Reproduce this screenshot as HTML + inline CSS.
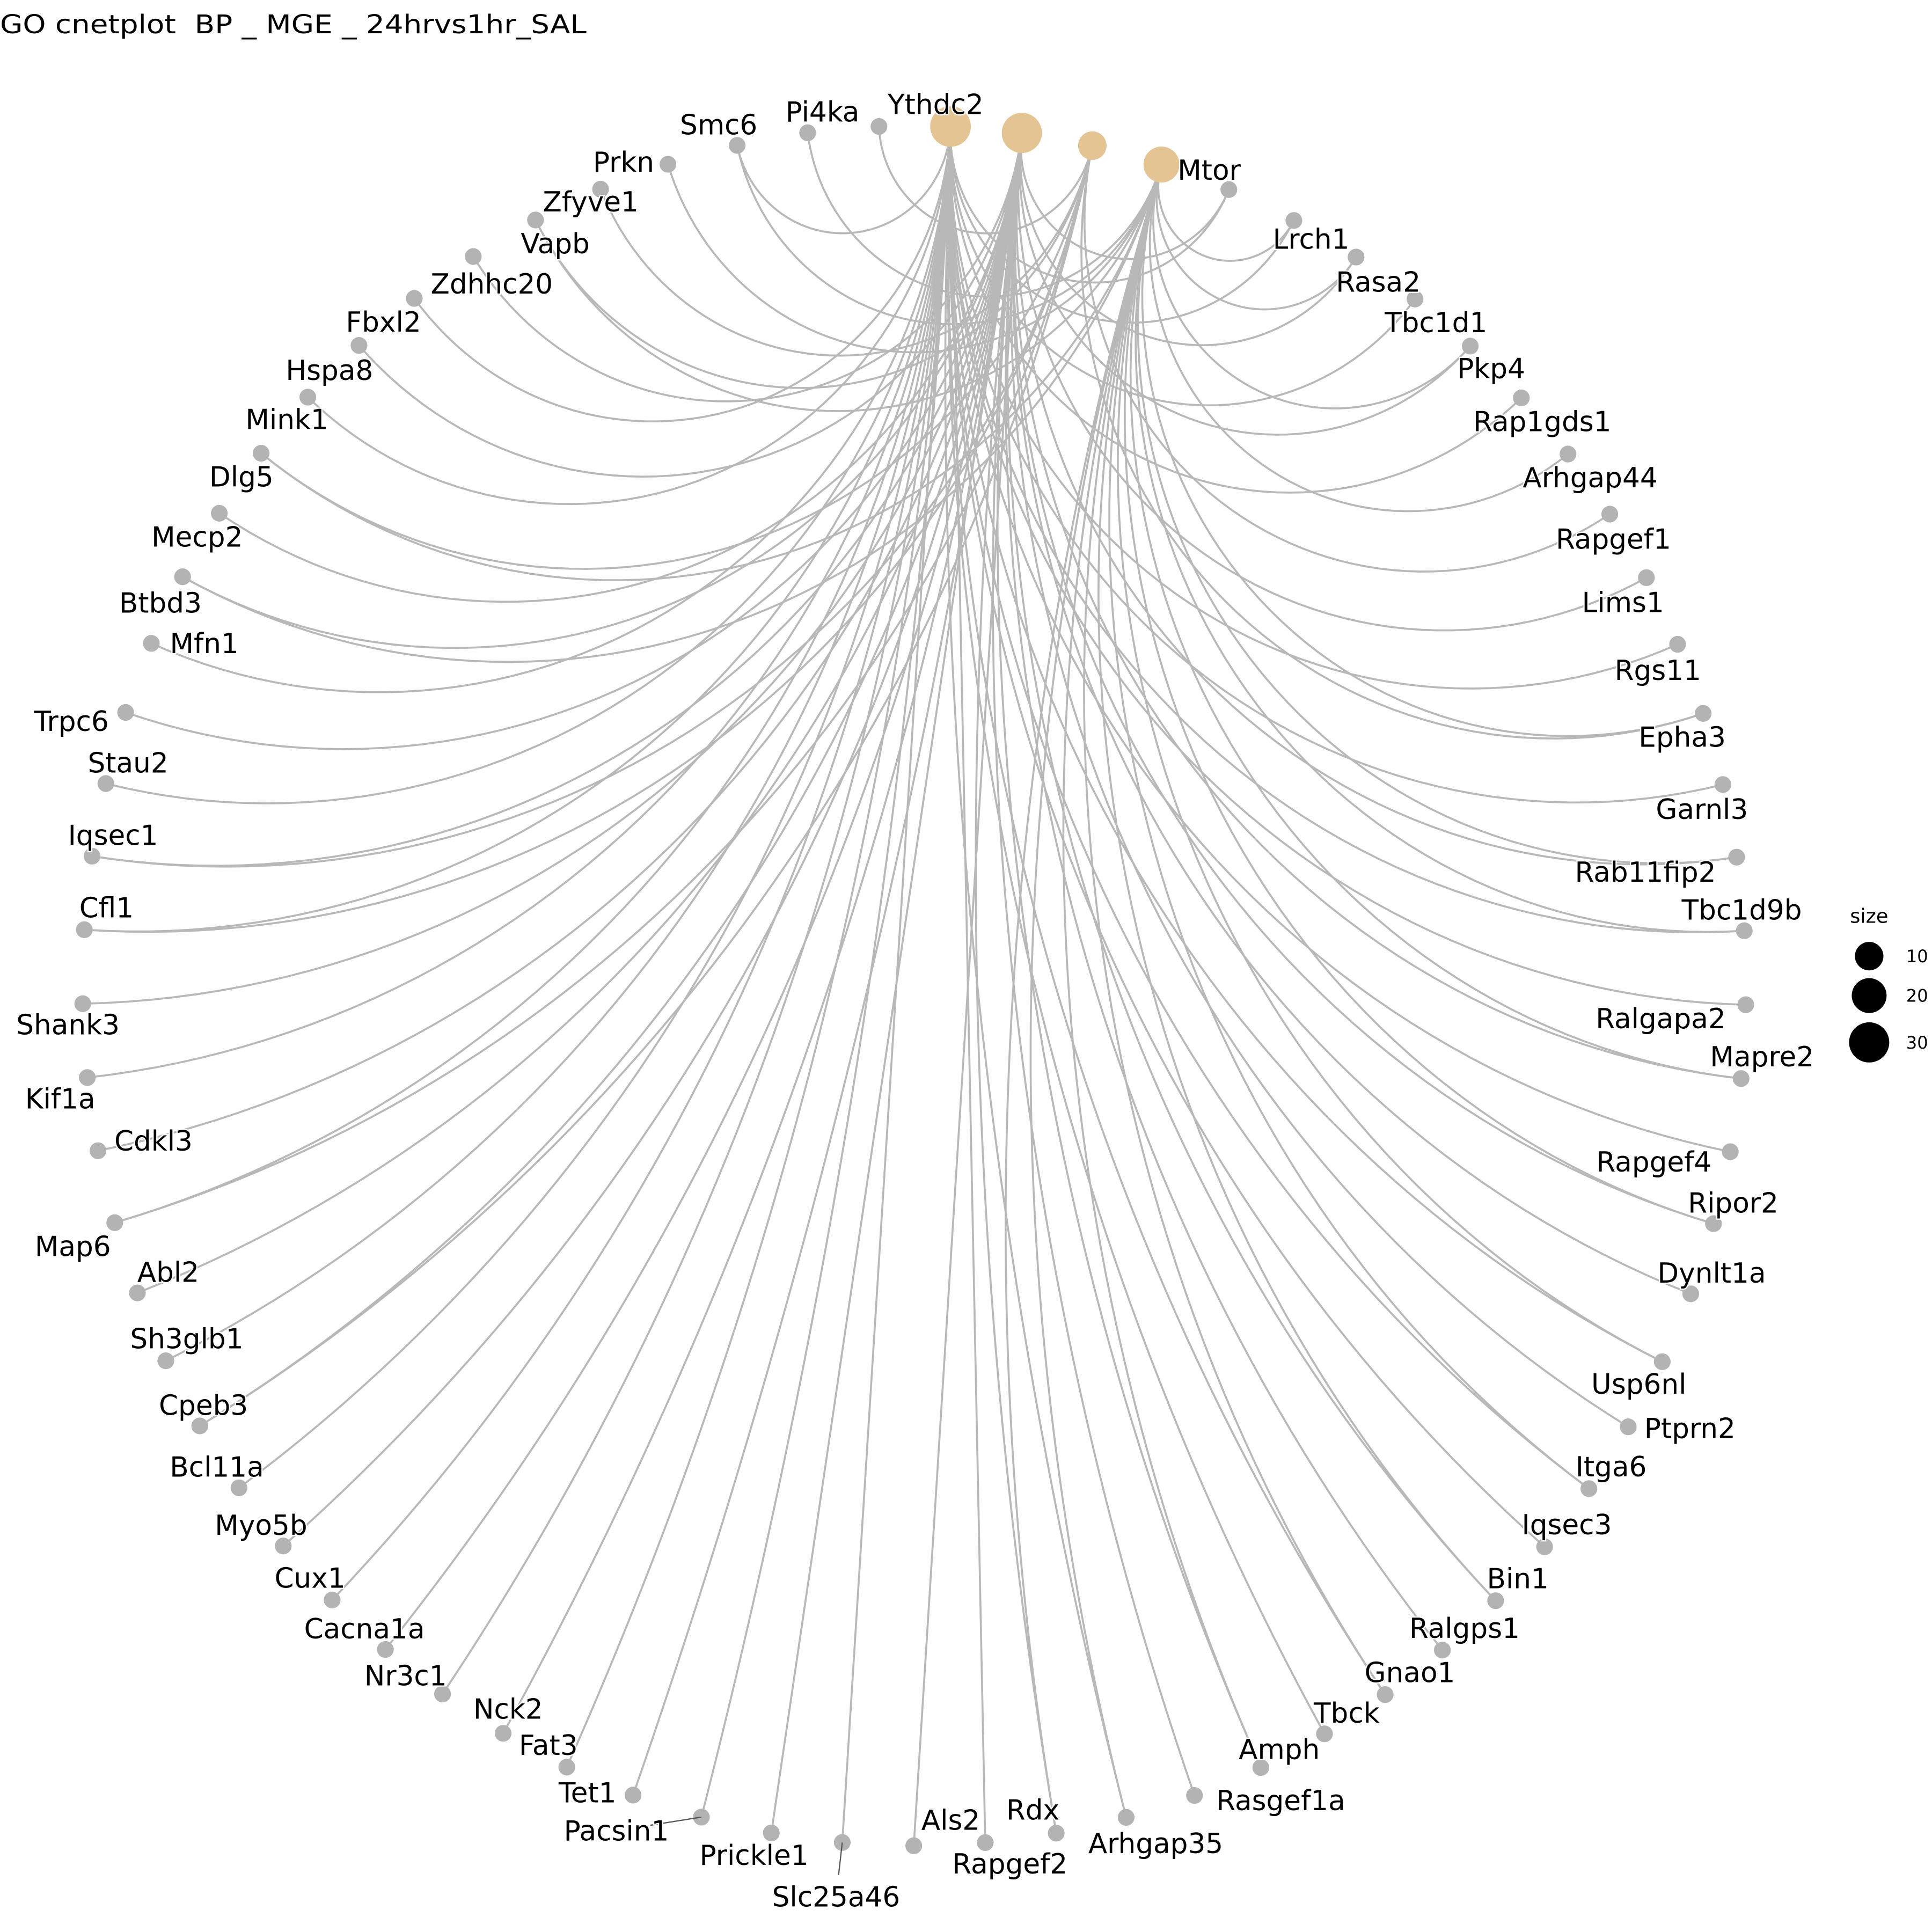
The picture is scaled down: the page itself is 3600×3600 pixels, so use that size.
<!DOCTYPE html>
<html><head><meta charset="utf-8">
<style>
html,body{margin:0;padding:0;background:#fff;}
svg{display:block;}
text{font-family:"DejaVu Sans","Liberation Sans",sans-serif;}
</style></head>
<body>
<svg id="chart" width="3600" height="3600" viewBox="0 0 1568 1568" xmlns="http://www.w3.org/2000/svg">
<rect x="0" y="0" width="1568" height="1568" fill="#ffffff"/>
<text x="0" y="27" font-size="21" textLength="476" lengthAdjust="spacingAndGlyphs" fill="#000" style="white-space:pre">GO cnetplot&#160; BP _ MGE _ 24hrvs1hr_SAL</text>
<g id="edges"></g>
<g id="nodes"></g>
<g id="labels"></g>
<g id="legend">
<text x="1517" y="749" font-size="16" text-anchor="middle">size</text>
</g>
</svg>
<script>
// ---- data ----
const categories = ["cat1","cat2","cat3","cat4"];
const genes = ["Mtor","Lrch1","Rasa2","Tbc1d1","Pkp4","Rap1gds1","Arhgap44","Rapgef1","Lims1","Rgs11",
"Epha3","Garnl3","Rab11fip2","Tbc1d9b","Ralgapa2","Mapre2","Rapgef4","Ripor2","Dynlt1a","Usp6nl",
"Ptprn2","Itga6","Iqsec3","Bin1","Ralgps1","Gnao1","Tbck","Amph","Rasgef1a","Arhgap35",
"Rdx","Rapgef2","Als2","Slc25a46","Prickle1","Pacsin1","Tet1","Fat3","Nck2","Nr3c1",
"Cacna1a","Cux1","Myo5b","Bcl11a","Cpeb3","Sh3glb1","Abl2","Map6","Cdkl3","Kif1a",
"Shank3","Cfl1","Iqsec1","Stau2","Trpc6","Mfn1","Btbd3","Mecp2","Dlg5","Mink1",
"Hspa8","Fbxl2","Zdhhc20","Vapb","Zfyve1","Prkn","Smc6","Pi4ka","Ythdc2"];
const cat1Genes = ["Mtor","Lrch1","Tbc1d1","Rap1gds1","Rgs11","Garnl3","Tbc1d9b","Ralgapa2","Rapgef4","Usp6nl","Itga6","Iqsec3","Gnao1","Tbck","Arhgap35","Rapgef2","Slc25a46","Pacsin1","Fat3","Nr3c1","Cux1","Bcl11a","Sh3glb1","Map6","Kif1a","Cfl1","Stau2","Mfn1","Mink1","Fbxl2","Smc6"];
const cat2Genes = ["Mtor","Rasa2","Pkp4","Lims1","Rab11fip2","Mapre2","Ripor2","Dynlt1a","Ptprn2","Bin1","Ralgps1","Amph","Rasgef1a","Rdx","Als2","Prickle1","Tet1","Nck2","Cacna1a","Myo5b","Cpeb3","Abl2","Cdkl3","Shank3","Iqsec1","Trpc6","Btbd3","Mecp2","Hspa8","Zdhhc20"];
const cat3Genes = ["Ythdc2","Zfyve1","Vapb","Dlg5","Cfl1","Iqsec1","Map6","Cpeb3","Rapgef1","Epha3"];
const cat4Genes = ["Lrch1","Rasa2","Pkp4","Arhgap44","Epha3","Rab11fip2","Tbc1d9b","Mapre2","Ripor2","Usp6nl","Itga6","Bin1","Gnao1","Amph","Arhgap35","Rdx","Pi4ka","Smc6","Prkn","Vapb","Dlg5","Btbd3"];
const legendSizes = [10,20,30];

// ---- layout (label placement offsets, not data) ----
const labelOffsets = [[-16,-16],[14,15],[18,20],[17,19],[17,18],[17,19],[18,19],[3,20],[-19,20],[-16,21],
[-17,19],[-17,20],[-74,12],[-2,-17],[-69,11],[17,-18],[-62,8],[16,-17],[17,-17],[-19,18],
[50,1],[18,-18],[18,-18],[18,-18],[18,-18],[20,-18],[18,-17],[15,-15],[70,4],[24,21],
[-19,-19],[20,17],[30,-21],[-5,44],[-14,18],[-69,11],[-37,-2],[-15,-18],[4,-20],[-30,-15],
[-17,-17],[-18,-18],[-18,-17],[-18,-17],[3,-17],[17,-18],[25,-17],[-34,19],[45,-8],[-22,17],
[-12,17],[18,-18],[17,-17],[18,-17],[-44,7],[43,0],[-18,21],[-18,19],[-16,19],[-17,18],
[-24,20],[-25,19],[15,22],[16,19],[-8,10],[-36,-2],[-15,-17],[12,-17],[46,-18]];
const leaderGenes = ["Slc25a46","Pacsin1"];

const NS = "http://www.w3.org/2000/svg";
const CX = 742, CY = 800, RX = 675, RY = 698;
const N = categories.length + genes.length;
const START = 2.5 * Math.PI / 180;
function ang(i){ return START + i * 2 * Math.PI / N; }
function unitPt(i){ const a = ang(i); return [Math.sin(a), -Math.cos(a)]; }
function toScreen(u){ return [CX + RX*u[0], CY + RY*u[1]]; }
function rForSize(s){ return Math.sqrt(68 + 6.6*s); }

const edgesG = document.getElementById('edges');
const nodesG = document.getElementById('nodes');
const labelsG = document.getElementById('labels');
const legendG = document.getElementById('legend');

function arcPath(i, j){
  const p1 = unitPt(i), p2 = unitPt(j);
  const dot = p1[0]*p2[0] + p1[1]*p2[1];
  const pts = [];
  if (1 + dot < 0.02) {
    pts.push(p1, p2);
  } else {
    const c = [(p1[0]+p2[0])/(1+dot), (p1[1]+p2[1])/(1+dot)];
    const r = Math.hypot(p1[0]-c[0], p1[1]-c[1]);
    const a1 = Math.atan2(p1[1]-c[1], p1[0]-c[0]);
    let a2 = Math.atan2(p2[1]-c[1], p2[0]-c[0]);
    let d = a2 - a1;
    while (d > Math.PI) d -= 2*Math.PI;
    while (d < -Math.PI) d += 2*Math.PI;
    for (let k = 0; k <= 60; k++) {
      const a = a1 + d*k/60;
      pts.push([c[0] + r*Math.cos(a), c[1] + r*Math.sin(a)]);
    }
  }
  return pts.map((u, k) => { const s = toScreen(u); return (k ? 'L' : 'M') + s[0].toFixed(2) + ' ' + s[1].toFixed(2); }).join(' ');
}

const catLists = [cat1Genes, cat2Genes, cat3Genes, cat4Genes];
catLists.forEach((list, ci) => {
  list.forEach(g => {
    const gi = genes.indexOf(g) + categories.length;
    const p = document.createElementNS(NS, 'path');
    p.setAttribute('d', arcPath(ci, gi));
    p.setAttribute('fill', 'none');
    p.setAttribute('stroke', '#b8b8b8');
    p.setAttribute('stroke-width', '1.6');
    
    
    edgesG.appendChild(p);
  });
});

genes.forEach((g, k) => {
  const s = toScreen(unitPt(k + categories.length));
  const c = document.createElementNS(NS, 'circle');
  c.setAttribute('cx', s[0]); c.setAttribute('cy', s[1]); c.setAttribute('r', 6.8);
  c.setAttribute('fill', '#b3b3b3');
  
  
  nodesG.appendChild(c);
  const off = labelOffsets[k];
  if (leaderGenes.indexOf(g) >= 0) {
    const ln = document.createElementNS(NS, 'line');
    ln.setAttribute('x1', s[0]); ln.setAttribute('y1', s[1]);
    ln.setAttribute('x2', s[0] + off[0]*0.6); ln.setAttribute('y2', s[1] + off[1]*0.6);
    ln.setAttribute('stroke', '#555'); ln.setAttribute('stroke-width', '1');
    
    
    labelsG.appendChild(ln);
  }
  const t = document.createElementNS(NS, 'text');
  t.setAttribute('x', s[0] + off[0]); t.setAttribute('y', s[1] + off[1] + 8);
  t.setAttribute('font-size', '22.5');
  t.setAttribute('text-anchor', 'middle');
  t.setAttribute('fill', '#000');
  t.setAttribute('stroke', '#fff'); t.setAttribute('stroke-width', '2');
  t.setAttribute('paint-order', 'stroke');
  
  
  t.textContent = g;
  labelsG.appendChild(t);
});

categories.forEach((cName, ci) => {
  const s = toScreen(unitPt(ci));
  const c = document.createElementNS(NS, 'circle');
  c.setAttribute('cx', s[0]); c.setAttribute('cy', s[1]);
  c.setAttribute('r', rForSize(catLists[ci].length));
  c.setAttribute('fill', '#e5c494');
  
  
  nodesG.insertBefore(c, nodesG.firstChild);
});

legendSizes.forEach((v, k) => {
  const y = [776, 808, 846][k];
  const c = document.createElementNS(NS, 'circle');
  c.setAttribute('cx', 1517); c.setAttribute('cy', y); c.setAttribute('r', rForSize(v));
  c.setAttribute('fill', '#000');
  
  
  legendG.appendChild(c);
  const t = document.createElementNS(NS, 'text');
  t.setAttribute('x', 1547); t.setAttribute('y', y + 5);
  t.setAttribute('font-size', '14');
  
  
  t.textContent = v;
  legendG.appendChild(t);
});
</script>
</body></html>
